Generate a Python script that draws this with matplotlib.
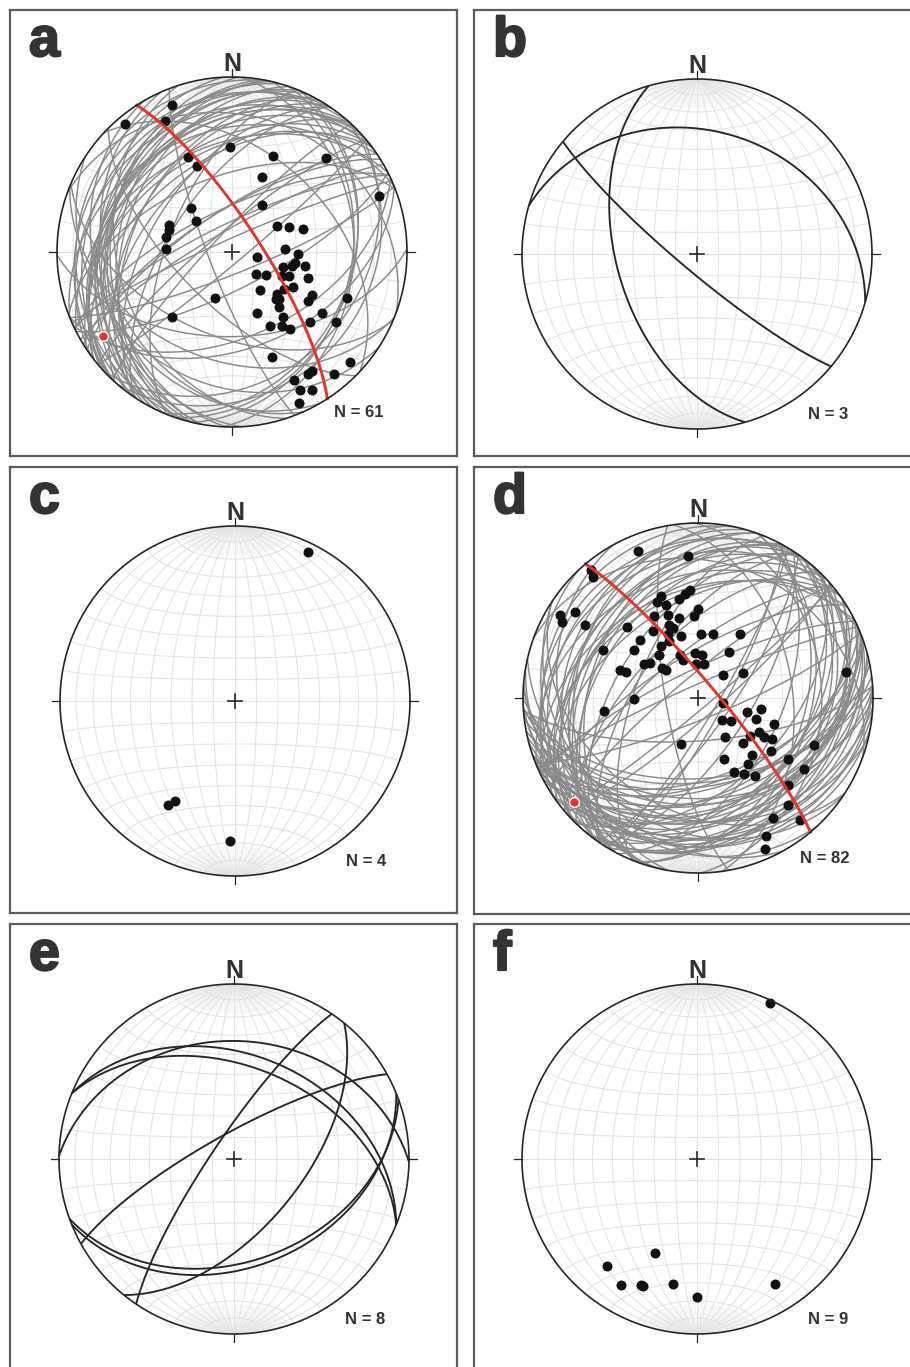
"""Lower-hemisphere equal-area (Schmidt) stereonets, panels a-f."""
import numpy as np
import matplotlib as mpl
mpl.use('Agg')
import matplotlib.pyplot as plt
import matplotlib.patheffects as pe

plt.rcParams['font.family'] = ['Liberation Sans', 'DejaVu Sans']

# ---- data -------------------------------------------------------------
# a: planes (dip direction / dip), poles plotted, with best-fit girdle
a_dipdir = [158, 140, 153, 179, 203, 225, 155, 158, 202, 249, 213, 137, 131, 113, 109, 103, 93,
            240, 246, 252, 267, 272, 282, 280, 281, 286, 312, 304, 293, 289, 300, 305, 324, 298,
            313, 315, 303, 20, 292, 319, 338, 304, 43, 322, 312, 304, 333, 326, 323, 339, 313,
            326, 328, 320, 334, 334, 330, 336, 317, 283, 296]
a_dip = [80, 85, 73, 50, 50, 65, 50, 44, 38, 79, 26, 28, 22, 32, 31, 32, 31, 24, 29, 35, 25, 31,
         12, 30, 35, 25, 15, 19, 29, 38, 33, 30, 22, 43, 29, 31, 43, 23, 60, 34, 31, 52, 42, 39,
         50, 61, 39, 42, 46, 54, 81, 71, 71, 80, 70, 77, 80, 84, 30, 29, 26]
a_girdle = (57, 77)   # dip direction / dip of girdle; its pole is the fold axis

# b: three planes
b_dipdir = [254, 16, 220]
b_dip = [52, 30, 82]

# c: lineations (trend / plunge)
c_trend = [26, 213, 211, 182]
c_plunge = [6, 30, 34, 21]

# d: planes, poles plotted, with best-fit girdle
d_dipdir = [158, 176, 140, 139, 176, 173, 160, 169, 157, 161, 180, 125, 121, 119, 123, 152, 160,
            167, 177, 158, 160, 135, 146, 155, 165, 183, 193, 213, 135, 153, 145, 127, 117, 138,
            157, 176, 185, 214, 159, 177, 190, 126, 122, 110, 110, 130, 131, 227, 241, 260, 89,
            82, 282, 286, 280, 312, 305, 290, 289, 299, 301, 299, 325, 306, 315, 20, 292, 306,
            317, 337, 304, 323, 304, 334, 329, 324, 314, 320, 328, 320, 334, 336]
d_dip = [80, 70, 85, 81, 52, 50, 52, 48, 50, 47, 42, 75, 81, 78, 66, 44, 42, 39, 39, 37, 35, 48,
         38, 33, 30, 30, 31, 36, 39, 30, 30, 38, 51, 27, 22, 21, 20, 26, 19, 16, 16, 28, 30, 39,
         36, 22, 20, 16, 24, 75, 30, 45, 12, 24, 30, 15, 19, 29, 38, 33, 36, 40, 22, 30, 30, 23,
         61, 43, 37, 31, 52, 39, 62, 39, 42, 46, 61, 69, 70, 80, 77, 84]
d_girdle = (50, 82)

# e: eight planes
e_dipdir = [304, 331, 129, 1, 22, 22, 158, 160]
e_dip = [80, 78, 58, 33, 40, 46, 38, 41]

# f: lineations
f_trend = [25, 204, 220, 211, 204, 203, 191, 180, 148]
f_plunge = [2, 41, 21, 17, 22, 22, 28, 22, 17]

W, H = 910, 1367
R = 175.0  # primitive radius in px

# panel frame (x0, y0, x1, y1) and net centre, in px from top-left
panels = {
    'a': ((10, 10, 457, 456), (232, 252)),
    'b': ((474, 10, 925, 456), (697, 254)),
    'c': ((10, 467, 457, 913), (235, 701)),
    'd': ((474, 467, 925, 914), (698, 698)),
    'e': ((10, 924, 457, 1380), (234, 1159)),
    'f': ((474, 924, 925, 1380), (697, 1159)),
}

INK = '#262626'
TXT = '#333333'
GRID = '#e2e2e2'
GREY = '#8a8a8a'
RED = '#e2352c'


# ---- projection helpers ----------------------------------------------
def project(v):
    """Equal-area, lower hemisphere; v = (east, north, up) unit vectors."""
    v = np.atleast_2d(v)
    e, n, u = v[:, 0], v[:, 1], v[:, 2]
    flip = u > 0
    e, n, u = np.where(flip, -e, e), np.where(flip, -n, n), np.where(flip, -u, u)
    k = 1.0 / np.sqrt(1.0 - u)
    return e * k, n * k


def line_vec(trend, plunge):
    t, p = np.radians(trend), np.radians(plunge)
    return np.column_stack([np.sin(t) * np.cos(p), np.cos(t) * np.cos(p), -np.sin(p)])


def pole_of(dipdir, dip):
    return line_vec(np.asarray(dipdir) + 180.0, 90.0 - np.asarray(dip))


def great_circle(dipdir, dip, lam=None):
    if lam is None:
        lam = np.linspace(0, np.pi, 181)
    dd, dp = np.radians(dipdir), np.radians(dip)
    s = np.array([np.sin(dd - np.pi / 2), np.cos(dd - np.pi / 2), 0.0])
    d = np.array([np.sin(dd) * np.cos(dp), np.cos(dd) * np.cos(dp), -np.sin(dp)])
    v = np.outer(np.cos(lam), s) + np.outer(np.sin(lam), d)
    return project(v)


def small_circle_ns(alpha):
    # cone of half-angle alpha around the north horizontal axis
    phi = np.linspace(0, np.pi, 181)
    a = np.radians(alpha)
    v = np.column_stack([np.sin(a) * np.cos(phi), np.full_like(phi, np.cos(a)),
                         -np.sin(a) * np.sin(phi)])
    return project(v)


def draw_net(ax):
    ax.add_patch(plt.Circle((0, 0), 1, facecolor='white', edgecolor='none', zorder=0))
    # 2 degree meridians only close to the N and S points
    cap = np.radians(18)
    for dip in range(2, 90, 2):
        if dip % 10 == 0:
            continue
        for dd in (90, 270):
            for lam in (np.linspace(0, cap, 15), np.linspace(np.pi - cap, np.pi, 15)):
                x, y = great_circle(dd, dip, lam)
                ax.plot(x, y, color='#ededed', lw=0.4, zorder=1)
    for dip in range(10, 91, 10):
        for dd in (90, 270):
            x, y = great_circle(dd, dip)
            ax.plot(x, y, color=GRID, lw=0.75, zorder=1)
    for alpha in range(10, 180, 10):
        x, y = small_circle_ns(alpha)
        ax.plot(x, y, color=GRID, lw=0.75, zorder=1)


def draw_frame(ax, n):
    th = np.linspace(0, 2 * np.pi, 721)
    ax.plot(np.cos(th), np.sin(th), color=INK, lw=1.2, zorder=8)
    tk = 0.045
    for x0, y0, x1, y1 in [(0, 1, 0, 1 + tk), (0, -1, 0, -1 - tk),
                           (1, 0, 1 + tk, 0), (-1, 0, -1 - tk, 0)]:
        ax.plot([x0, x1], [y0, y1], color=INK, lw=0.9, zorder=8)
    c = 0.038
    ax.plot([-c, c], [0, 0], color=INK, lw=1.2, zorder=8)
    ax.plot([0, 0], [-c, c], color=INK, lw=1.2, zorder=8)
    ax.text(0, 1.035, 'N', ha='center', va='baseline', fontsize=18, fontweight='bold',
            color=TXT, zorder=9)
    ax.text(0.865, -0.945, f'N = {n}', ha='right', va='baseline', fontsize=12,
            fontweight='bold', color=TXT, zorder=9)


def plane_panel(ax, dipdir, dip, color, lw, poles=False, girdle=None):
    for dd, dp in zip(dipdir, dip):
        x, y = great_circle(dd, dp)
        ax.plot(x, y, color=color, lw=lw, zorder=3, solid_capstyle='butt')
    if poles:
        px, py = project(pole_of(dipdir, dip))
        ax.plot(px, py, 'o', ms=6.2, color='#111111', mec='#111111', zorder=5)
    if girdle is not None:
        x, y = great_circle(*girdle)
        ax.plot(x, y, color=RED, lw=2.1, zorder=6)
        gx, gy = project(pole_of([girdle[0]], [girdle[1]]))
        ax.plot(gx, gy, 'o', ms=7, color=RED, mec='white', mew=1.0, zorder=7)


def line_panel(ax, trend, plunge):
    x, y = project(line_vec(np.asarray(trend, float), np.asarray(plunge, float)))
    ax.plot(x, y, 'o', ms=6.2, color='#111111', zorder=5)


fig = plt.figure(figsize=(W / 100, H / 100), dpi=100)
axes = {}
for key, ((x0, y0, x1, y1), (cx, cy)) in panels.items():
    ax = fig.add_axes([x0 / W, 1 - y1 / H, (x1 - x0) / W, (y1 - y0) / H])
    ax.set_xlim((x0 - cx) / R, (x1 - cx) / R)
    ax.set_ylim((cy - y1) / R, (cy - y0) / R)
    ax.set_xticks([])
    ax.set_yticks([])
    for sp in ax.spines.values():
        sp.set_color('#5c5c5c')
        sp.set_linewidth(1.6)
    draw_net(ax)
    axes[key] = ax

plane_panel(axes['a'], a_dipdir, a_dip, GREY, 1.05, poles=True, girdle=a_girdle)
plane_panel(axes['b'], b_dipdir, b_dip, INK, 1.35)
line_panel(axes['c'], c_trend, c_plunge)
plane_panel(axes['d'], d_dipdir, d_dip, GREY, 1.05, poles=True, girdle=d_girdle)
plane_panel(axes['e'], e_dipdir, e_dip, INK, 1.35)
line_panel(axes['f'], f_trend, f_plunge)

counts = {'a': len(a_dip), 'b': len(b_dip), 'c': len(c_plunge),
          'd': len(d_dip), 'e': len(e_dip), 'f': len(f_plunge)}
for key, ax in axes.items():
    (x0, y0, x1, y1), (cx, cy) = panels[key]
    draw_frame(ax, counts[key])
    # panel letter: ~19 px in from the left edge, baseline 46 px below the top edge
    ax.text((x0 + 19 - cx) / R, (cy - (y0 + 46)) / R, key, ha='left', va='baseline',
            fontsize=40, fontweight='bold', color=TXT, zorder=9,
            path_effects=[pe.withStroke(linewidth=1.6, foreground=TXT)])

fig.savefig('out.png', dpi=100)
